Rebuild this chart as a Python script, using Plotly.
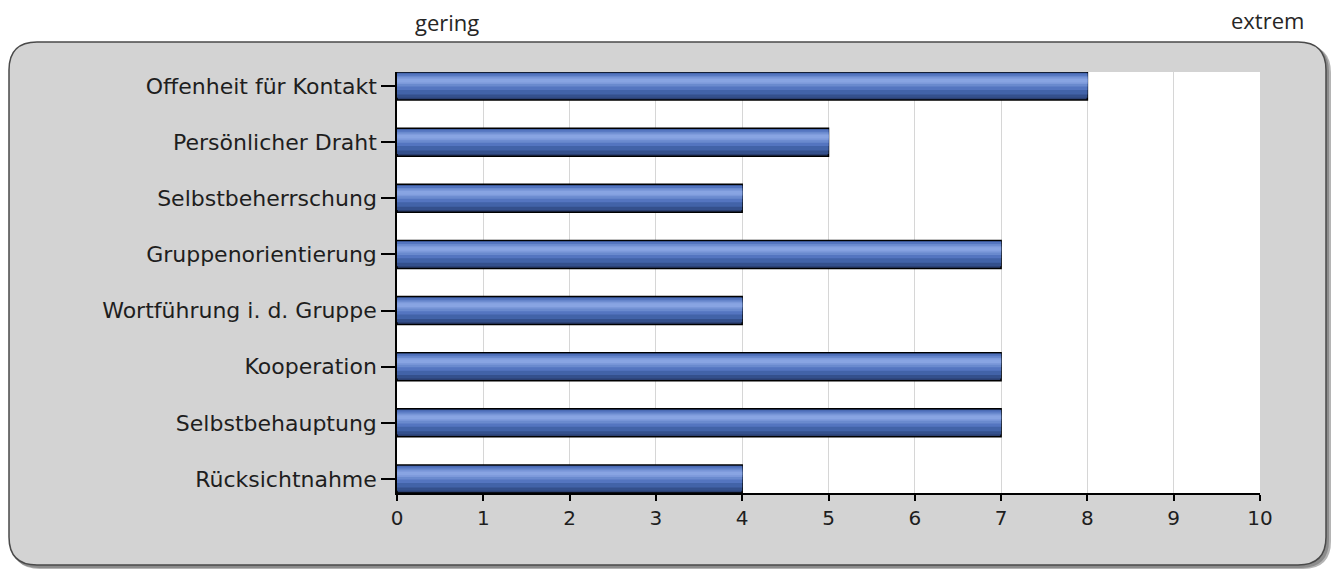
import plotly.graph_objects as go

categories = ["Offenheit für Kontakt", "Persönlicher Draht", "Selbstbeherrschung",
              "Gruppenorientierung", "Wortführung i. d. Gruppe", "Kooperation",
              "Selbstbehauptung", "Rücksichtnahme"]
values = [8, 5, 4, 7, 4, 7, 7, 4]
x_ticks = list(range(0, 11))
scale_low = "gering"
scale_high = "extrem"

W, H = 1334, 569
L, R, T, B = 397, 74, 72, 76
PW, PH = W - L - R, H - T - B

def px(x):
    return (x - L) / PW

def py(y):
    return (H - B - y) / PH

# gradient layers: (start fraction from top, end fraction, colour)
layers = [
    (0.00, 1.00, "#2b3f70"),
    (0.03, 0.92, "#34508c"),
    (0.04, 0.80, "#4263a8"),
    (0.06, 0.64, "#5475c0"),
    (0.13, 0.52, "#6a8ace"),
    (0.19, 0.43, "#7c99da"),
    (0.24, 0.37, "#88a4e2"),
]
BW = 0.5

fig = go.Figure()
for i, (s, e, c) in enumerate(layers):
    fig.add_trace(go.Bar(
        y=categories, x=values, orientation="h",
        offset=-BW / 2 + s * BW, width=(e - s) * BW,
        marker=dict(color=c, line=dict(color="#000000", width=1.5 if i == 0 else 0)),
        hoverinfo="skip" if i else "x+y", showlegend=False,
    ))

def rounded(x0, y0, x1, y1, r):
    return (f"M {px(x0 + r)},{py(y0)} L {px(x1 - r)},{py(y0)} "
            f"Q {px(x1)},{py(y0)} {px(x1)},{py(y0 + r)} L {px(x1)},{py(y1 - r)} "
            f"Q {px(x1)},{py(y1)} {px(x1 - r)},{py(y1)} L {px(x0 + r)},{py(y1)} "
            f"Q {px(x0)},{py(y1)} {px(x0)},{py(y1 - r)} L {px(x0)},{py(y0 + r)} "
            f"Q {px(x0)},{py(y0)} {px(x0 + r)},{py(y0)} Z")

shapes = [
    dict(type="path", xref="paper", yref="paper", path=rounded(12, 45, 1331, 569, 28),
         fillcolor="#b4b4b4", line=dict(width=0), layer="below"),
    dict(type="path", xref="paper", yref="paper", path=rounded(11, 44, 1329, 568, 28),
         fillcolor="#8c8c8c", line=dict(width=0), layer="below"),
    dict(type="path", xref="paper", yref="paper", path=rounded(9, 42, 1326, 565, 28),
         fillcolor="#d3d3d3", line=dict(color="#4a4a4a", width=1.5), layer="below"),
    dict(type="rect", xref="paper", yref="paper", x0=0, x1=1, y0=0, y1=1,
         fillcolor="#ffffff", line=dict(width=0), layer="below"),
]

tick_font = dict(family="DejaVu Sans", size=22, color="#1e1e1e")
top_font = dict(family="Open Sans", size=22, color="#262626")

fig.update_layout(
    width=W, height=H,
    margin=dict(l=L, r=R, t=T, b=B),
    paper_bgcolor="#ffffff", plot_bgcolor="#ffffff",
    barmode="overlay",
    shapes=shapes,
    font=tick_font,
    xaxis=dict(range=[0, 10], tickvals=x_ticks, ticktext=[str(v) for v in x_ticks],
               showgrid=True, gridcolor="#d6d6d6", gridwidth=1,
               zeroline=False, showline=True, linecolor="#000000", linewidth=1.5,
               ticks="outside", ticklen=6, tickwidth=1.5, tickcolor="#000000",
               tickfont=dict(family="DejaVu Sans", size=20, color="#1e1e1e")),
    yaxis=dict(type="category", categoryorder="array", categoryarray=categories,
               range=[len(categories) - 0.75, -0.25],
               showgrid=False, zeroline=False, showline=True,
               linecolor="#000000", linewidth=1.5,
               ticks="outside", ticklen=14, tickwidth=1.5, tickcolor="#000000",
               ticklabelstandoff=0, tickfont=tick_font),
    annotations=[
        dict(text=scale_low, xref="paper", yref="paper", x=px(447), y=py(22),
             showarrow=False, xanchor="center", yanchor="middle", font=top_font),
        dict(text=scale_high, xref="paper", yref="paper", x=px(1267), y=py(20),
             showarrow=False, xanchor="center", yanchor="middle", font=top_font),
    ],
)

fig.write_html("out.html")
